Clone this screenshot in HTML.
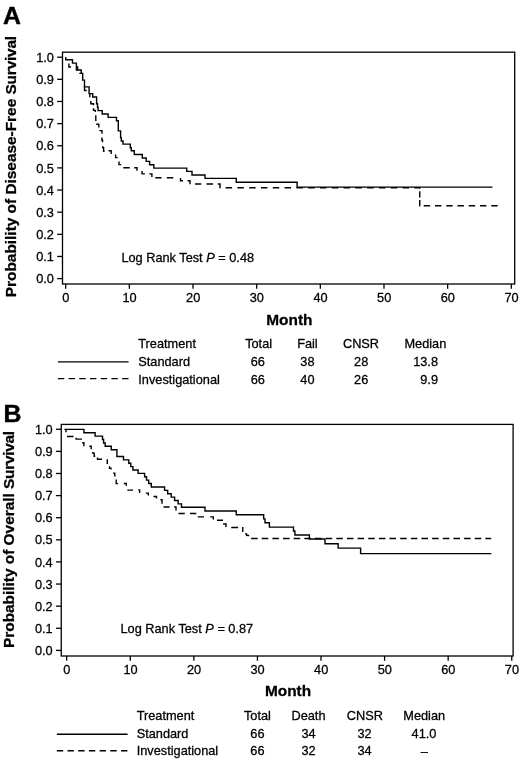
<!DOCTYPE html>
<html><head><meta charset="utf-8"><title>Survival curves</title>
<style>
html,body{margin:0;padding:0;background:#fff;}
svg{display:block;will-change:transform;font-family:"Liberation Sans",sans-serif;fill:#000;}
text{stroke:#000;stroke-width:0.28px;}
</style></head>
<body>
<svg width="520" height="763" viewBox="0 0 520 763">
<rect x="0" y="0" width="520" height="763" fill="#fff"/>
<rect x="62.5" y="52.2" width="452.20" height="231.80" fill="none" stroke="#000" stroke-width="1.3"/>
<g stroke="#000" stroke-width="1.3">
<line x1="57.20" x2="62.5" y1="278.60" y2="278.60"/>
<line x1="57.20" x2="62.5" y1="256.46" y2="256.46"/>
<line x1="57.20" x2="62.5" y1="234.32" y2="234.32"/>
<line x1="57.20" x2="62.5" y1="212.18" y2="212.18"/>
<line x1="57.20" x2="62.5" y1="190.04" y2="190.04"/>
<line x1="57.20" x2="62.5" y1="167.90" y2="167.90"/>
<line x1="57.20" x2="62.5" y1="145.76" y2="145.76"/>
<line x1="57.20" x2="62.5" y1="123.62" y2="123.62"/>
<line x1="57.20" x2="62.5" y1="101.48" y2="101.48"/>
<line x1="57.20" x2="62.5" y1="79.34" y2="79.34"/>
<line x1="57.20" x2="62.5" y1="57.20" y2="57.20"/>
<line x1="65.70" x2="65.70" y1="284.0" y2="288.80"/>
<line x1="129.36" x2="129.36" y1="284.0" y2="288.80"/>
<line x1="193.01" x2="193.01" y1="284.0" y2="288.80"/>
<line x1="256.67" x2="256.67" y1="284.0" y2="288.80"/>
<line x1="320.33" x2="320.33" y1="284.0" y2="288.80"/>
<line x1="383.99" x2="383.99" y1="284.0" y2="288.80"/>
<line x1="447.64" x2="447.64" y1="284.0" y2="288.80"/>
<line x1="511.30" x2="511.30" y1="284.0" y2="288.80"/>
</g>
<g font-size="12.75" text-anchor="end">
<text x="53.90" y="283.20">0.0</text>
<text x="53.90" y="261.06">0.1</text>
<text x="53.90" y="238.92">0.2</text>
<text x="53.90" y="216.78">0.3</text>
<text x="53.90" y="194.64">0.4</text>
<text x="53.90" y="172.50">0.5</text>
<text x="53.90" y="150.36">0.6</text>
<text x="53.90" y="128.22">0.7</text>
<text x="53.90" y="106.08">0.8</text>
<text x="53.90" y="83.94">0.9</text>
<text x="53.90" y="61.80">1.0</text>
</g>
<g font-size="12.75" text-anchor="middle">
<text x="65.90" y="302.3">0</text>
<text x="129.56" y="302.3">10</text>
<text x="193.21" y="302.3">20</text>
<text x="256.87" y="302.3">30</text>
<text x="320.53" y="302.3">40</text>
<text x="384.19" y="302.3">50</text>
<text x="447.84" y="302.3">60</text>
<text x="511.50" y="302.3">70</text>
</g>
<g fill="none" stroke="#000" stroke-width="1.4" stroke-linejoin="miter">
<path d="M68.90,63.60L68.90,67.00L71.00,67.00M76.00,67.00L77.60,67.00L77.60,70.20M79.30,73.40L82.20,73.40M84.50,86.50L84.50,90.50L86.70,90.50M89.80,93.40L89.80,97.30M90.80,101.00L90.80,103.70L93.50,103.70L93.50,105.20M93.50,108.20L93.50,110.40L95.40,110.40L95.40,112.00M95.80,115.20L95.80,120.90M96.20,124.20L98.80,124.20L98.80,127.50M99.40,130.60L102.00,130.60L102.00,133.80M101.90,137.60L101.90,140.00L102.50,140.00L102.50,142.30M102.70,146.20L102.70,147.60L103.60,147.60L103.60,151.20L104.60,151.20M108.50,150.80L111.20,150.80L111.20,154.00M115.60,154.60L115.60,157.60L117.70,157.60M119.00,161.50L119.00,164.60L121.20,164.60M123.30,167.80L129.80,167.80M134.25,167.80L137.00,167.80L137.00,170.70M142.10,171.00L142.10,173.90L144.90,173.90M149.25,173.90L151.90,173.90L151.90,176.90M155.25,177.80L161.60,177.80M166.75,177.80L173.25,177.80M180.50,178.00L180.50,180.70L183.00,180.70M187.60,180.70L190.00,180.70L190.00,184.20M195.00,184.00L201.30,184.00M206.50,184.00L213.10,184.00M217.75,184.00L220.00,184.00L220.00,188.30M419.75,187.75L419.75,188.60M419.75,191.25L419.75,197.50M419.75,200.00L419.75,205.70L420.20,205.70"/>
<path d="M225.6,187.75H420.3" stroke-dasharray="6.4 5.4" stroke-dashoffset="0"/>
<path d="M423.75,205.7H498.0" stroke-dasharray="6.4 4.85" stroke-dashoffset="0"/>
<path d="M65.70,56.90H65.70V59.79H72.50V63.17H76.40V69.94H81.20V73.33H82.70V80.10H84.50V86.87H89.10V93.65H92.70V97.03H96.60V103.80H97.50V107.19H98.10V110.58H102.20V113.96H108.10V117.35H116.50V120.73H118.30V130.89H120.60V137.66H121.30V141.05H123.00V144.10H130.30V147.82H131.30V150.80H134.30V154.50H142.30V157.98H146.15V161.37H149.60V164.75H153.85V168.10H186.75V171.40H192.00V175.00H205.00V178.40H236.25V182.30H297.10V187.10H492.50"/>
</g>
<text transform="translate(15.65,297.2) rotate(-90) scale(1.0000,1)" font-size="15.4" font-weight="bold" stroke="#000" stroke-width="0.22">Probability of Disease-Free <tspan letter-spacing="-0.18">Survival</tspan></text>
<text x="2.9" y="24.1" font-size="24.8" font-weight="bold" style="stroke-width:0.45px">A</text>
<text x="121.4" y="261.6" font-size="12.75">Log Rank Test <tspan font-style="italic">P</tspan> = 0.48</text>
<text transform="translate(266.3,325.3) scale(1.0000,1)" font-size="15.4" font-weight="bold" stroke="#000" stroke-width="0.25">Month</text>
<g stroke="#000" stroke-width="1.4">
<line x1="57.9" x2="128.6" y1="361.9" y2="361.9"/>
<line x1="57.9" x2="128.6" y1="378.6" y2="378.6" stroke-dasharray="6.4 4.3"/>
</g>
<g font-size="12.75">
<text x="138.3" y="348.0">Treatment</text>
<text x="138.3" y="365.8">Standard</text>
<text x="138.3" y="383.7">Investigational</text>
<text x="258.6" y="348.0" text-anchor="middle">Total</text>
<text x="307.4" y="348.0" text-anchor="middle">Fail</text>
<text x="361.0" y="348.0" text-anchor="middle">CNSR</text>
<text x="425.4" y="348.0" text-anchor="middle">Median</text>
<text x="257.8" y="365.8" text-anchor="middle">66</text>
<text x="307.4" y="365.8" text-anchor="middle">38</text>
<text x="361.2" y="365.8" text-anchor="middle">28</text>
<text x="438.0" y="365.8" text-anchor="end">13.8</text>
<text x="257.8" y="383.7" text-anchor="middle">66</text>
<text x="307.4" y="383.7" text-anchor="middle">40</text>
<text x="361.2" y="383.7" text-anchor="middle">26</text>
<text x="438.0" y="383.7" text-anchor="end">9.9</text>
</g>
<rect x="61.25" y="424.4" width="451.85" height="231.60" fill="none" stroke="#000" stroke-width="1.3"/>
<g stroke="#000" stroke-width="1.3">
<line x1="55.95" x2="61.25" y1="650.40" y2="650.40"/>
<line x1="55.95" x2="61.25" y1="628.28" y2="628.28"/>
<line x1="55.95" x2="61.25" y1="606.17" y2="606.17"/>
<line x1="55.95" x2="61.25" y1="584.05" y2="584.05"/>
<line x1="55.95" x2="61.25" y1="561.94" y2="561.94"/>
<line x1="55.95" x2="61.25" y1="539.82" y2="539.82"/>
<line x1="55.95" x2="61.25" y1="517.71" y2="517.71"/>
<line x1="55.95" x2="61.25" y1="495.60" y2="495.60"/>
<line x1="55.95" x2="61.25" y1="473.48" y2="473.48"/>
<line x1="55.95" x2="61.25" y1="451.37" y2="451.37"/>
<line x1="55.95" x2="61.25" y1="429.25" y2="429.25"/>
<line x1="66.70" x2="66.70" y1="656.0" y2="660.80"/>
<line x1="130.28" x2="130.28" y1="656.0" y2="660.80"/>
<line x1="193.86" x2="193.86" y1="656.0" y2="660.80"/>
<line x1="257.44" x2="257.44" y1="656.0" y2="660.80"/>
<line x1="321.01" x2="321.01" y1="656.0" y2="660.80"/>
<line x1="384.59" x2="384.59" y1="656.0" y2="660.80"/>
<line x1="448.17" x2="448.17" y1="656.0" y2="660.80"/>
<line x1="511.75" x2="511.75" y1="656.0" y2="660.80"/>
</g>
<g font-size="12.75" text-anchor="end">
<text x="52.65" y="655.00">0.0</text>
<text x="52.65" y="632.88">0.1</text>
<text x="52.65" y="610.77">0.2</text>
<text x="52.65" y="588.65">0.3</text>
<text x="52.65" y="566.54">0.4</text>
<text x="52.65" y="544.42">0.5</text>
<text x="52.65" y="522.31">0.6</text>
<text x="52.65" y="500.20">0.7</text>
<text x="52.65" y="478.08">0.8</text>
<text x="52.65" y="455.97">0.9</text>
<text x="52.65" y="433.85">1.0</text>
</g>
<g font-size="12.75" text-anchor="middle">
<text x="66.90" y="674.3">0</text>
<text x="130.48" y="674.3">10</text>
<text x="194.06" y="674.3">20</text>
<text x="257.64" y="674.3">30</text>
<text x="321.21" y="674.3">40</text>
<text x="384.79" y="674.3">50</text>
<text x="448.37" y="674.3">60</text>
<text x="511.95" y="674.3">70</text>
</g>
<g fill="none" stroke="#000" stroke-width="1.4" stroke-linejoin="miter">
<path d="M66.00,429.40L66.00,432.20M67.00,436.50L73.50,436.50M76.20,437.70L76.20,439.10L82.00,439.10M82.20,442.80L83.90,442.80L83.90,446.30M89.30,446.30L91.20,446.30L91.20,449.20M92.80,452.00L92.80,453.10L94.20,453.10L94.20,456.30L95.20,456.30M97.50,457.50L97.50,459.20L102.00,459.20M107.30,459.20L107.30,463.90M109.50,466.20L109.50,468.30L111.00,468.30L111.00,469.40M113.10,473.10L114.80,473.10L114.80,476.50M116.20,479.60L116.20,483.60L118.10,483.60M123.80,483.50L126.30,483.50L126.30,485.80M127.30,490.10L133.00,490.10M138.30,489.90L139.60,489.90L139.60,493.10M145.80,493.10L148.30,493.10L148.30,495.40M153.50,496.50L156.50,496.50L156.50,498.50M160.40,499.80L162.00,499.80L162.00,503.80M163.50,507.00L169.60,507.00M174.00,506.90L176.00,506.90L176.00,510.60M178.50,513.50L184.75,513.50M190.00,513.50L196.25,513.50M197.75,516.90L204.00,516.90M210.25,516.90L213.30,516.90L213.30,519.40M216.90,520.25L223.00,520.25M223.10,524.00L226.00,524.00L226.00,526.90M231.25,527.50L238.10,527.50M242.75,526.90L242.75,531.90M245.00,533.90L246.60,533.90L246.60,535.40L249.20,535.50"/>
<path d="M251.1,538.5H491.25" stroke-dasharray="6.5 4.15" stroke-dashoffset="0"/>
<path d="M64.40,429.40H83.90V432.78H95.10V436.17H102.50V439.55H103.60V442.94H105.20V446.32H111.25V449.71H116.90V456.48H123.50V459.86H128.80V463.25H130.80V466.63H132.90V470.02H138.10V473.40H144.60V476.79H146.50V480.17H148.70V483.56H151.30V486.94H164.60V490.33H167.70V493.71H171.20V497.10H174.60V500.48H178.10V503.87H181.50V507.25H205.00V511.00H236.25V514.70H263.65V518.90H265.00V522.80H269.40V527.10H293.50V531.00H294.90V535.00H309.40V539.00H325.00V543.75H338.10V548.10H360.60V553.60H491.25"/>
</g>
<text transform="translate(13.65,648.0) rotate(-90) scale(1.0000,1)" font-size="15.4" font-weight="bold" stroke="#000" stroke-width="0.22">Probability of Overall <tspan letter-spacing="-0.27">Survival</tspan></text>
<text x="3.6" y="422.4" font-size="24.8" font-weight="bold" style="stroke-width:0.45px">B</text>
<text x="120.5" y="633.3" font-size="12.75">Log Rank Test <tspan font-style="italic">P</tspan> = 0.87</text>
<text transform="translate(265.0,696.4) scale(1.0000,1)" font-size="15.4" font-weight="bold" stroke="#000" stroke-width="0.25">Month</text>
<g stroke="#000" stroke-width="1.4">
<line x1="56.8" x2="127.6" y1="734.2" y2="734.2"/>
<line x1="56.8" x2="127.6" y1="750.7" y2="750.7" stroke-dasharray="6.4 4.3"/>
</g>
<g font-size="12.75">
<text x="136.7" y="720.1">Treatment</text>
<text x="136.7" y="737.7">Standard</text>
<text x="136.7" y="755.2">Investigational</text>
<text x="257.4" y="720.1" text-anchor="middle">Total</text>
<text x="308.5" y="720.1" text-anchor="middle">Death</text>
<text x="364.8" y="720.1" text-anchor="middle">CNSR</text>
<text x="424.2" y="720.1" text-anchor="middle">Median</text>
<text x="257.4" y="737.7" text-anchor="middle">66</text>
<text x="308.5" y="737.7" text-anchor="middle">34</text>
<text x="364.5" y="737.7" text-anchor="middle">32</text>
<text x="424.0" y="737.7" text-anchor="middle">41.0</text>
<text x="257.4" y="755.2" text-anchor="middle">66</text>
<text x="308.5" y="755.2" text-anchor="middle">32</text>
<text x="364.5" y="755.2" text-anchor="middle">34</text>
<text x="424.3" y="756.1" text-anchor="middle">–</text>
</g>
</svg>
</body></html>
